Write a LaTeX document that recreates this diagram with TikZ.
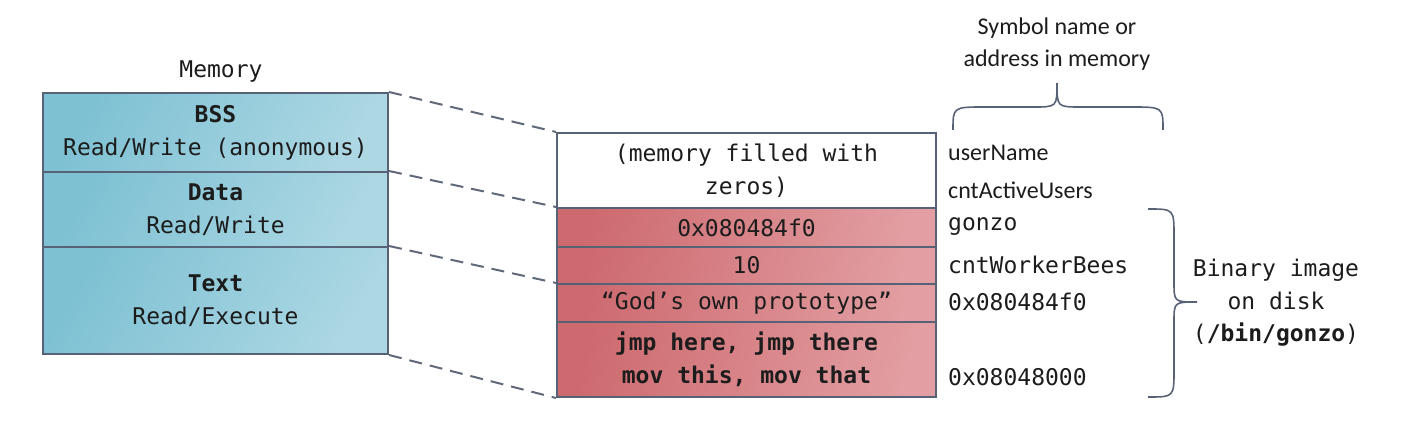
\documentclass[tikz,border=0pt]{standalone}
\usepackage{fontspec}
\setmainfont{Carlito}
\setmonofont{DejaVu Sans Mono}
\newfontfamily\calib{Carlito}
\definecolor{bluedark}{RGB}{126,193,211}
\definecolor{bluelight}{RGB}{172,215,227}
\definecolor{reddark}{RGB}{205,106,111}
\definecolor{redlight}{RGB}{226,158,162}
\definecolor{edge}{RGB}{88,98,118}
\definecolor{txt}{RGB}{28,28,28}
\definecolor{dash}{RGB}{95,105,122}
\tikzset{
  cell/.style={draw=edge, line width=2pt, inner sep=0pt, align=center, text=txt,
    font=\ttfamily\fontsize{23}{33}\selectfont},
  bluecell/.style={cell, minimum width=345pt, left color=bluedark, right color=bluelight, shading angle=60},
  redcell/.style={cell, minimum width=379pt, left color=reddark, right color=redlight, shading angle=75},
  whitecell/.style={cell, minimum width=379pt, fill=white},
  lbl/.style={anchor=west, inner sep=0pt, text=txt},
  monolbl/.style={lbl, font=\ttfamily\fontsize{23}{33}\selectfont},
  sanslbl/.style={lbl, font=\calib\fontsize{24}{33}\selectfont},
  conn/.style={draw=dash, line width=2pt, dash pattern=on 13pt off 8pt},
  brace/.style={draw=edge, line width=1.6pt}
}
\begin{document}
\begin{tikzpicture}[x=1pt,y=-1pt]
\useasboundingbox (0,0) rectangle (1414,430);
% left memory column
\node[text=txt, font=\ttfamily\fontsize{23}{28}\selectfont] (memtitle) at (221,72) {Memory};
\node[bluecell, minimum height=79pt] (bss) at (215.5,132.5) {\textbf{BSS}\\Read/Write (anonymous)};
\node[bluecell, minimum height=75pt] (data) at (215.5,209.5) {\textbf{Data}\\Read/Write};
\node[bluecell, minimum height=107pt] (text) at (215.5,300.5) {\textbf{Text}\\Read/Execute};
% right binary column
\node[whitecell, minimum height=75pt] (zeros) at (746.5,170.5) {(memory filled with\\zeros)};
\node[redcell, minimum height=39pt] (ptr) at (746.5,227.5) {0x080484f0};
\node[redcell, minimum height=37pt] (ten) at (746.5,265.5) {10};
\node[redcell, minimum height=38pt] (god) at (746.5,303) {“God’s own prototype”};
\node[redcell, minimum height=75pt] (code) at (746.5,359.5) {\textbf{jmp here, jmp there}\\\textbf{mov this, mov that}};
% dashed mapping lines
\draw[conn] (bss.north east) -- (zeros.north west);
\draw[conn] (data.north east) -- (ptr.north west);
\draw[conn] (text.north east) -- (god.north west);
\draw[conn] (text.south east) -- (code.south west);
% symbol labels
\node[sanslbl] (l1) at (948,153) {userName};
\node[sanslbl] (l2) at (948,190) {cntActiveUsers};
\node[monolbl] (l3) at (948,227) {gonzo};
\node[monolbl] (l4) at (948,265) {cntWorkerBees};
\node[monolbl] (l5) at (948,302) {0x080484f0};
\node[monolbl] (l6) at (948,377) {0x08048000};
% top brace and caption
\draw[brace] (953,130) .. controls (953,107) .. (985,107) -- (1033,107)
  .. controls (1057,107) .. (1057,83) .. controls (1057,107) .. (1081,107)
  -- (1131,107) .. controls (1163,107) .. (1163,130);
\node[text=txt, align=center, font=\calib\fontsize{24}{32}\selectfont] (symcap) at (1057,44) {Symbol name or\\address in memory};
% right brace and caption
\draw[brace] (1148,209) .. controls (1174,209) .. (1174,236) -- (1174,282)
  .. controls (1174,302) .. (1197,302) .. controls (1174,302) .. (1174,322)
  -- (1174,370) .. controls (1174,397) .. (1148,397);
\node[text=txt, align=center, font=\ttfamily\fontsize{23}{32.5}\selectfont] (bincap) at (1276,303) {Binary image\\on disk\\(\textbf{/bin/gonzo})};
\end{tikzpicture}
\end{document}
